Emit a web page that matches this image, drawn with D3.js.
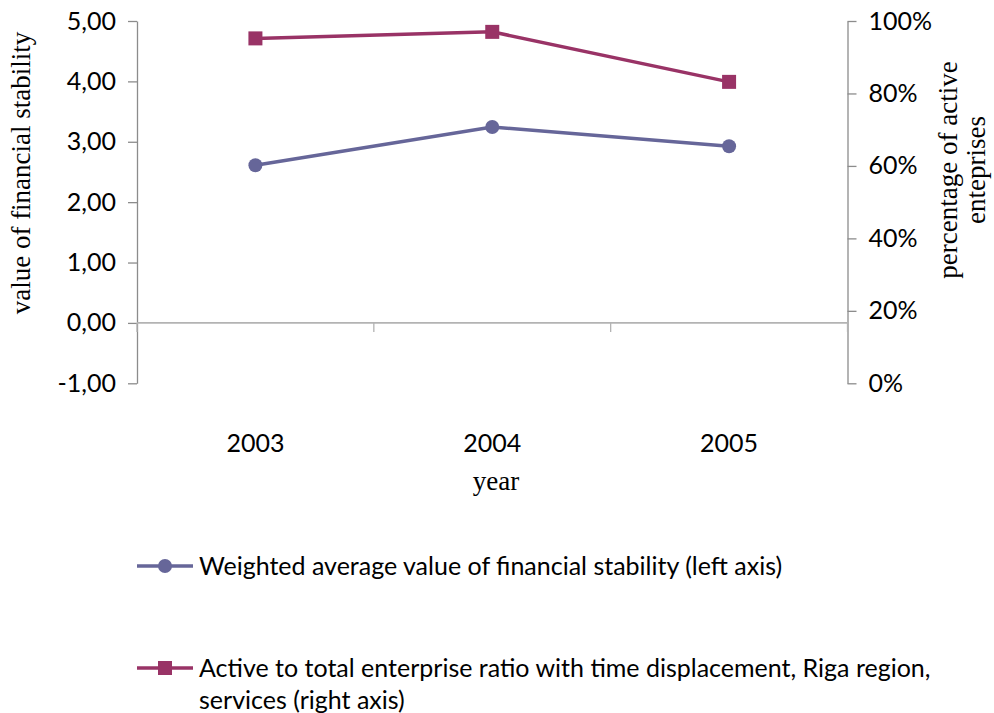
<!DOCTYPE html>
<html>
<head>
<meta charset="utf-8">
<script src="https://cdn.jsdelivr.net/npm/d3@7/dist/d3.min.js"></script>
<style>
  html, body { margin: 0; padding: 0; background: #fff; }
  svg { display: block; }
  .tick text, .lbl { font-family: Lato, "Open Sans", sans-serif; fill: #000; }
  .ttl { font-family: "Liberation Serif", "Times New Roman", serif; fill: #000; }
</style>
</head>
<body>
<svg id="chart" width="994" height="713"></svg>
<script>
// Years on the category axis
const years = ["2003", "2004", "2005"];
// Weighted average value of financial stability (left axis)
const stabilityValues = [2.61, 3.245, 2.925];
// Active to total enterprise ratio, Riga region, services (right axis)
const activeRatioValues = [0.952, 0.970, 0.832];
// Tick values for both value axes
const leftTicks = [-1, 0, 1, 2, 3, 4, 5];
const rightTicks = [0, 0.2, 0.4, 0.6, 0.8, 1.0];
// Legend entries
const legendLabels = [
  ["Weighted average value of financial stability (left axis)"],
  ["Active to total enterprise ratio with time displacement, Riga region,", "services (right axis)"]
];

const blue = "#666699";
const plum = "#993366";
const axisGrey = "#8c8c8c";
const fontSize = 25;
const titleSize = 27;

const svg = d3.select("#chart");

const plotLeft = 137, plotRight = 847.5, plotTop = 21, plotBottom = 383.3;

const x = d3.scaleBand().domain(years).range([plotLeft, plotRight]);
const yL = d3.scaleLinear().domain([-1, 5]).range([plotBottom, plotTop]);
const yR = d3.scaleLinear().domain([0, 1]).range([plotBottom, plotTop]);

const fmtL = v => d3.format(".2f")(v).replace(".", ",").replace("\u2212", "-");
const fmtR = v => Math.round(v * 100) + "%";

// Left value axis
const gL = svg.append("g").attr("transform", `translate(${plotLeft},0)`)
  .call(d3.axisLeft(yL).tickValues(leftTicks).tickFormat(fmtL).tickSize(9).tickPadding(12).tickSizeOuter(0));
// Right value axis
const gR = svg.append("g").attr("transform", `translate(${plotRight},0)`)
  .call(d3.axisRight(yR).tickValues(rightTicks).tickFormat(fmtR).tickSize(9).tickPadding(12).tickSizeOuter(0));

[gL, gR].forEach(g => {
  g.select(".domain").attr("stroke", axisGrey).attr("stroke-width", 1.3);
  g.selectAll(".tick line").attr("stroke", axisGrey).attr("stroke-width", 1.3);
  g.selectAll(".tick text").attr("font-size", fontSize);
});

// Category axis crossing at zero, ticks between categories
const boundaries = years.map(d => x(d)).concat([x(years[years.length - 1]) + x.bandwidth()]);
const gX = svg.append("g").attr("transform", `translate(0,${yL(0)})`);
gX.append("line").attr("x1", plotLeft).attr("x2", plotRight)
  .attr("stroke", "#b3b3b3").attr("stroke-width", 1.6);
gX.selectAll("line.tk").data(boundaries).join("line").attr("class", "tk")
  .attr("x1", d => d).attr("x2", d => d).attr("y1", 0).attr("y2", 9)
  .attr("stroke", "#b3b3b3").attr("stroke-width", 1.3);

// Category labels at the bottom of the plot
svg.append("g").selectAll("text").data(years).join("text").attr("class", "lbl")
  .attr("x", d => x(d) + x.bandwidth() / 2).attr("y", 452)
  .attr("text-anchor", "middle").attr("font-size", fontSize).text(d => d);

// Axis titles
svg.append("text").attr("class", "ttl").attr("font-size", titleSize)
  .attr("x", 496).attr("y", 490).attr("text-anchor", "middle").text("year");
svg.append("text").attr("class", "ttl").attr("font-size", titleSize)
  .attr("transform", "translate(30,173) rotate(-90)").attr("text-anchor", "middle")
  .text("value of financial stability");
const rt = svg.append("text").attr("class", "ttl").attr("font-size", titleSize)
  .attr("transform", "translate(957,170) rotate(-90)").attr("text-anchor", "middle");
rt.append("tspan").attr("x", 0).attr("y", 0).text("percentage of active");
rt.append("tspan").attr("x", 0).attr("y", 28).text("enteprises");

// Series lines and markers
const cx = d => x(d) + x.bandwidth() / 2;
const lineL = d3.line().x((d, i) => cx(years[i])).y(d => yL(d));
const lineR = d3.line().x((d, i) => cx(years[i])).y(d => yR(d));

svg.append("path").datum(stabilityValues).attr("d", lineL)
  .attr("fill", "none").attr("stroke", blue).attr("stroke-width", 3.5);
svg.append("g").selectAll("circle").data(stabilityValues).join("circle")
  .attr("cx", (d, i) => cx(years[i])).attr("cy", d => yL(d)).attr("r", 7).attr("fill", blue);

svg.append("path").datum(activeRatioValues).attr("d", lineR)
  .attr("fill", "none").attr("stroke", plum).attr("stroke-width", 3.5);
const sq = 14;
svg.append("g").selectAll("rect").data(activeRatioValues).join("rect")
  .attr("x", (d, i) => cx(years[i]) - sq / 2).attr("y", d => yR(d) - sq / 2)
  .attr("width", sq).attr("height", sq).attr("fill", plum);

// Legend
const legendY = [566, 668];
const colors = [blue, plum];
legendLabels.forEach((lines, i) => {
  const g = svg.append("g").attr("transform", `translate(0,${legendY[i]})`);
  g.append("line").attr("x1", 137).attr("x2", 193).attr("y1", 0).attr("y2", 0)
    .attr("stroke", colors[i]).attr("stroke-width", 3.5);
  if (i === 0) g.append("circle").attr("cx", 165).attr("cy", 0).attr("r", 7).attr("fill", colors[i]);
  else g.append("rect").attr("x", 165 - sq / 2).attr("y", -sq / 2).attr("width", sq).attr("height", sq).attr("fill", colors[i]);
  const t = g.append("text").attr("class", "lbl").attr("font-size", fontSize).attr("x", 199).attr("y", 9);
  lines.forEach((s, k) => t.append("tspan").attr("x", 199).attr("dy", k === 0 ? 0 : 32).text(s));
});
</script>
</body>
</html>
